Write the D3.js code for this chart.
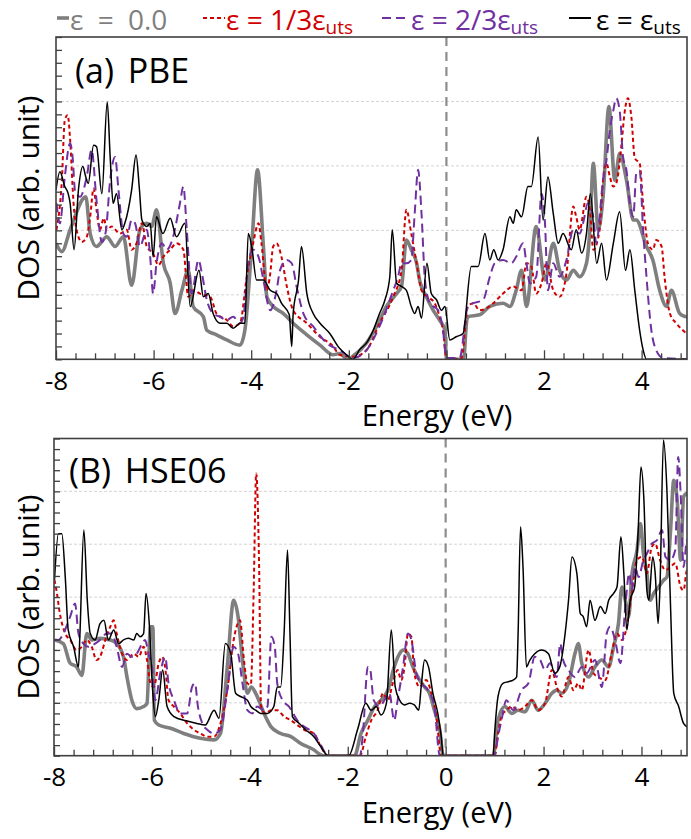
<!DOCTYPE html>
<html><head><meta charset="utf-8">
<script src="https://cdn.jsdelivr.net/npm/d3@7"></script>
<style>
body{margin:0;background:#fff}
text{font-family:"Open Sans",sans-serif}
</style>
</head><body>
<svg id="c" width="691" height="839"></svg>
<script>
// ---------------- DATA (Energy eV, DOS arb. unit) ----------------
const xMajorTicks = [-8, -6, -4, -2, 0, 2, 4];
const legendLabels = ["ε = 0.0", "ε = 1/3ε", "ε = 2/3ε", "ε = ε"];
const panelTitles = ["(a) PBE", "(B) HSE06"];

// PBE panel
const pbe_eps0 = [[-8.0,1.80],[-7.88,1.67],[-7.71,2.01],[-7.39,2.52],[-7.30,1.95],[-7.17,1.75],[-6.96,1.90],[-6.79,1.75],[-6.62,1.90],[-6.45,1.15],[-6.28,2.01],[-6.14,2.11],[-6.04,2.06],[-5.94,2.32],[-5.80,1.49],[-5.66,1.18],[-5.56,0.71],[-5.42,1.07],[-5.29,1.38],[-5.19,0.82],[-4.98,0.66],[-4.91,0.45],[-4.71,0.38],[-4.50,0.30],[-4.23,0.22],[-4.13,0.45],[-3.99,1.75],[-3.87,2.94],[-3.75,1.75],[-3.68,0.97],[-3.55,0.82],[-3.34,0.71],[-3.14,0.56],[-2.86,0.38],[-2.59,0.22],[-2.32,0.07],[-2.19,0.09],[-2.02,0.0],[-1.91,0.05],[-1.64,0.25],[-1.43,0.51],[-1.23,0.82],[-1.02,1.02],[-0.92,1.13],[-0.82,1.85],[-0.72,1.70],[-0.61,1.49],[-0.55,1.23],[-0.41,0.97],[-0.27,0.76],[-0.14,0.61],[-0.03,0.45],[0.0,0.0],[0.35,0.0],[0.42,0.62],[0.44,0.66],[0.68,0.69],[0.89,0.82],[1.16,0.87],[1.30,0.82],[1.43,1.07],[1.54,1.38],[1.64,0.82],[1.84,2.06],[2.02,1.23],[2.19,1.80],[2.32,1.38],[2.46,1.23],[2.60,1.38],[2.73,1.28],[2.87,1.49],[2.94,2.01],[3.01,3.04],[3.11,2.01],[3.21,2.52],[3.33,3.92],[3.45,2.78],[3.55,3.19],[3.69,2.78],[3.83,2.16],[3.89,2.16],[4.10,1.75],[4.23,1.54],[4.37,1.07],[4.51,0.82],[4.61,1.07],[4.78,0.71],[4.92,0.66],[5.0,0.66]];
const pbe_eps13 = [[-7.99,2.01],[-7.88,2.78],[-7.82,3.71],[-7.76,3.79],[-7.71,3.40],[-7.64,2.42],[-7.58,2.01],[-7.47,1.82],[-7.37,1.90],[-7.30,2.21],[-7.23,2.65],[-7.17,2.32],[-7.10,2.01],[-7.02,2.19],[-6.96,2.01],[-6.86,2.06],[-6.69,1.95],[-6.55,2.01],[-6.45,1.70],[-6.35,1.80],[-6.24,2.11],[-6.14,1.75],[-6.01,1.64],[-5.90,1.46],[-5.80,1.59],[-5.66,1.70],[-5.53,1.80],[-5.39,1.70],[-5.29,0.97],[-5.19,1.07],[-5.05,1.02],[-4.84,0.97],[-4.71,0.71],[-4.50,0.61],[-4.37,0.51],[-4.23,0.56],[-4.09,1.28],[-3.96,1.80],[-3.85,2.11],[-3.79,1.80],[-3.68,1.07],[-3.61,1.33],[-3.55,1.75],[-3.48,1.80],[-3.38,1.59],[-3.27,1.13],[-3.14,0.76],[-2.86,0.56],[-2.59,0.35],[-2.32,0.20],[-2.19,0.07],[-1.91,0.04],[-1.64,0.14],[-1.37,0.56],[-1.09,0.97],[-0.92,1.38],[-0.82,2.32],[-0.72,1.95],[-0.61,1.49],[-0.51,1.07],[-0.38,0.97],[-0.24,0.87],[-0.14,0.66],[-0.07,0.45],[0.0,0.02],[0.07,0.0],[0.31,0.02],[0.44,0.82],[0.55,0.87],[0.68,0.76],[0.82,0.79],[0.96,0.87],[1.16,1.02],[1.37,1.13],[1.54,1.07],[1.64,1.49],[1.74,1.44],[1.84,1.02],[1.95,1.18],[2.05,1.49],[2.19,1.07],[2.32,0.97],[2.46,1.33],[2.60,2.37],[2.66,2.21],[2.73,2.01],[2.87,2.52],[2.94,2.32],[3.01,1.70],[3.14,2.01],[3.21,2.78],[3.28,3.04],[3.35,2.83],[3.42,2.68],[3.48,2.73],[3.59,3.35],[3.65,3.82],[3.72,4.05],[3.79,3.76],[3.86,3.12],[3.96,3.04],[4.03,2.42],[4.13,1.80],[4.23,1.70],[4.30,1.85],[4.41,1.75],[4.47,1.28],[4.58,0.71],[4.71,0.56],[4.92,0.40],[5.0,0.35]];
const pbe_eps23 = [[-7.99,2.42],[-7.92,2.11],[-7.82,2.83],[-7.71,3.35],[-7.66,3.14],[-7.61,2.62],[-7.51,2.52],[-7.37,2.83],[-7.27,3.25],[-7.17,2.47],[-7.06,1.82],[-6.98,1.98],[-6.89,2.78],[-6.79,3.14],[-6.72,2.63],[-6.62,1.95],[-6.55,1.90],[-6.45,2.16],[-6.38,2.11],[-6.28,1.75],[-6.14,2.01],[-6.07,1.59],[-6.01,1.02],[-5.94,1.49],[-5.83,1.80],[-5.73,1.70],[-5.60,1.90],[-5.46,2.42],[-5.39,2.68],[-5.32,2.01],[-5.22,1.02],[-5.08,1.54],[-5.01,1.33],[-4.91,0.92],[-4.78,0.71],[-4.64,0.66],[-4.50,0.61],[-4.37,0.66],[-4.23,0.56],[-4.16,0.66],[-4.06,1.49],[-3.96,1.70],[-3.85,1.59],[-3.75,1.23],[-3.61,0.76],[-3.48,1.07],[-3.41,1.38],[-3.27,1.54],[-3.17,1.49],[-3.07,1.13],[-2.93,0.71],[-2.73,0.51],[-2.45,0.25],[-2.18,0.14],[-1.91,0.02],[-1.64,0.14],[-1.37,0.51],[-1.09,1.07],[-0.99,1.28],[-0.92,1.49],[-0.82,1.49],[-0.72,1.54],[-0.65,2.26],[-0.58,2.94],[-0.51,2.26],[-0.44,1.23],[-0.34,0.87],[-0.17,0.76],[-0.07,0.45],[0.0,0.02],[0.27,0.02],[0.44,0.82],[0.55,0.87],[0.75,0.92],[0.89,1.28],[0.99,1.49],[1.16,1.54],[1.33,1.49],[1.43,1.59],[1.57,1.80],[1.64,1.49],[1.71,1.18],[1.84,1.28],[1.95,2.57],[2.02,2.11],[2.08,1.07],[2.19,1.49],[2.32,1.28],[2.46,1.54],[2.60,2.01],[2.73,1.95],[2.80,2.11],[2.90,2.42],[3.01,2.21],[3.07,1.80],[3.21,2.78],[3.28,3.09],[3.35,3.56],[3.42,3.86],[3.48,4.05],[3.55,3.86],[3.62,3.14],[3.69,2.93],[3.76,2.42],[3.83,2.21],[3.89,2.88],[3.96,2.93],[4.03,2.01],[4.10,1.28],[4.20,0.45],[4.30,0.14],[4.44,0.02],[5.0,0.0]];
const pbe_epsUts = [[-8.0,2.63],[-7.92,2.91],[-7.82,2.68],[-7.75,2.57],[-7.71,2.42],[-7.63,1.70],[-7.54,2.63],[-7.45,2.99],[-7.39,2.83],[-7.34,2.73],[-7.23,3.32],[-7.17,3.30],[-7.06,2.57],[-6.95,3.99],[-6.89,3.14],[-6.83,2.42],[-6.76,2.57],[-6.65,2.01],[-6.59,2.11],[-6.45,2.63],[-6.36,3.17],[-6.29,2.63],[-6.24,2.16],[-6.14,2.06],[-6.07,2.11],[-6.01,1.59],[-5.94,2.21],[-5.81,1.95],[-5.66,2.19],[-5.53,1.90],[-5.36,2.11],[-5.25,0.82],[-5.07,1.38],[-4.98,0.97],[-4.88,1.02],[-4.78,0.71],[-4.64,0.56],[-4.50,0.56],[-4.37,0.48],[-4.23,0.56],[-4.13,0.56],[-4.06,1.95],[-3.99,1.75],[-3.89,1.23],[-3.75,1.23],[-3.61,1.07],[-3.48,1.02],[-3.38,0.87],[-3.22,0.69],[-3.17,0.20],[-3.14,0.71],[-3.03,1.23],[-2.97,1.75],[-2.86,1.02],[-2.73,0.71],[-2.59,0.56],[-2.39,0.40],[-2.19,0.17],[-2.05,0.07],[-1.91,0.0],[-1.78,0.15],[-1.64,0.25],[-1.50,0.45],[-1.37,0.71],[-1.26,0.92],[-1.16,1.28],[-1.11,2.01],[-1.02,1.18],[-0.92,1.13],[-0.82,1.07],[-0.72,0.82],[-0.65,0.71],[-0.58,0.82],[-0.51,0.64],[-0.40,1.49],[-0.31,1.02],[-0.20,0.92],[-0.10,0.76],[-0.03,0.82],[0.07,0.30],[0.20,0.35],[0.34,0.40],[0.51,1.44],[0.65,1.44],[0.79,1.95],[0.89,1.54],[0.97,1.70],[1.06,1.54],[1.16,1.70],[1.30,2.21],[1.37,2.11],[1.43,2.32],[1.54,2.21],[1.67,2.68],[1.74,2.68],[1.88,3.45],[1.98,2.16],[2.08,2.83],[2.19,2.26],[2.29,1.80],[2.39,1.95],[2.56,1.70],[2.66,2.01],[2.77,1.65],[2.87,1.95],[2.95,2.57],[3.08,1.49],[3.18,1.80],[3.28,1.23],[3.42,1.80],[3.55,2.29],[3.67,1.38],[3.76,1.70],[3.86,1.07],[3.96,0.45],[4.03,0.15],[4.10,0.0],[5.0,0.0]];

// HSE06 panel
const hse_eps0 = [[-7.98,2.19],[-7.81,2.12],[-7.67,1.75],[-7.54,1.68],[-7.43,1.52],[-7.33,2.31],[-7.23,2.19],[-7.06,2.22],[-6.85,2.19],[-6.72,2.12],[-6.58,1.87],[-6.51,1.49],[-6.41,1.05],[-6.31,0.89],[-6.17,0.93],[-6.10,0.99],[-6.03,2.44],[-5.98,2.44],[-5.95,0.67],[-5.86,0.58],[-5.62,0.52],[-5.35,0.42],[-5.01,0.33],[-4.73,0.30],[-4.60,0.42],[-4.46,1.68],[-4.33,2.94],[-4.24,2.63],[-4.15,1.81],[-4.05,1.18],[-3.97,1.30],[-3.88,1.18],[-3.71,0.80],[-3.57,0.55],[-3.37,0.42],[-3.16,0.36],[-2.96,0.23],[-2.69,0.11],[-2.58,0.03],[-2.50,0.0],[-1.86,0.0],[-1.73,0.42],[-1.59,0.67],[-1.45,0.93],[-1.32,1.05],[-1.18,1.24],[-1.05,1.68],[-0.94,1.93],[-0.87,2.0],[-0.77,1.93],[-0.67,1.68],[-0.53,1.43],[-0.43,1.30],[-0.33,1.18],[-0.23,0.86],[-0.12,0.49],[-0.05,0.0],[0.97,0.0],[1.07,0.67],[1.21,0.93],[1.35,0.80],[1.48,0.86],[1.62,0.83],[1.76,1.05],[1.89,0.86],[2.03,0.99],[2.17,1.18],[2.27,1.24],[2.37,1.18],[2.51,1.37],[2.64,1.93],[2.71,2.12],[2.78,1.75],[2.92,1.49],[3.05,1.68],[3.19,1.81],[3.33,1.68],[3.43,2.06],[3.53,2.50],[3.60,3.19],[3.67,2.94],[3.74,2.63],[3.80,3.38],[3.91,3.89],[3.98,4.39],[4.04,3.82],[4.11,3.45],[4.18,2.94],[4.25,3.07],[4.35,3.19],[4.45,3.32],[4.52,3.38],[4.59,4.20],[4.66,5.21],[4.73,4.83],[4.80,3.70],[4.86,4.90],[4.93,4.96],[5.0,4.83]];
const hse_eps13 = [[-7.99,3.32],[-7.95,3.13],[-7.88,2.69],[-7.77,2.31],[-7.67,2.19],[-7.54,2.0],[-7.43,2.06],[-7.33,2.19],[-7.23,2.06],[-7.13,1.81],[-7.06,1.87],[-6.95,2.19],[-6.85,2.44],[-6.78,2.56],[-6.72,2.31],[-6.61,1.93],[-6.51,1.81],[-6.37,1.93],[-6.27,1.87],[-6.17,2.06],[-6.10,1.81],[-6.03,1.37],[-5.96,1.30],[-5.86,1.75],[-5.79,1.87],[-5.73,1.68],[-5.66,1.05],[-5.55,0.93],[-5.42,0.80],[-5.28,0.61],[-5.14,0.49],[-5.01,0.42],[-4.87,0.36],[-4.73,0.36],[-4.60,0.61],[-4.46,1.24],[-4.33,2.19],[-4.20,2.56],[-4.12,1.81],[-4.05,1.37],[-3.98,1.34],[-3.92,3.19],[-3.87,5.34],[-3.81,3.57],[-3.77,0.93],[-3.68,0.80],[-3.57,0.86],[-3.44,0.86],[-3.30,0.74],[-3.16,0.67],[-3.03,0.58],[-2.89,0.49],[-2.69,0.42],[-2.55,0.17],[-2.40,0.0],[-1.75,0.0],[-1.63,0.36],[-1.52,0.67],[-1.39,0.86],[-1.28,1.18],[-1.18,1.05],[-1.08,1.37],[-0.98,1.62],[-0.91,1.43],[-0.84,1.68],[-0.77,2.31],[-0.70,2.25],[-0.64,1.56],[-0.53,1.30],[-0.40,1.43],[-0.29,1.18],[-0.19,0.74],[-0.09,0.0],[1.0,0.0],[1.07,0.42],[1.14,0.74],[1.24,0.86],[1.35,0.93],[1.48,0.86],[1.62,0.93],[1.76,1.05],[1.89,0.86],[2.03,0.99],[2.17,1.62],[2.27,1.30],[2.37,1.12],[2.51,1.49],[2.61,1.24],[2.71,1.37],[2.78,1.24],[2.92,2.0],[3.02,1.56],[3.12,1.49],[3.26,1.43],[3.39,1.93],[3.50,2.31],[3.60,2.19],[3.70,2.44],[3.80,3.07],[3.91,3.70],[4.01,3.76],[4.11,3.45],[4.21,3.95],[4.28,4.01],[4.38,3.70],[4.49,3.51],[4.59,3.57],[4.69,3.64],[4.80,3.19],[4.86,3.13],[4.93,3.51],[5.0,2.94]];
const hse_eps23 = [[-7.99,2.19],[-7.91,2.19],[-7.81,2.31],[-7.67,2.63],[-7.57,2.88],[-7.50,2.31],[-7.40,2.12],[-7.30,2.06],[-7.16,2.12],[-7.06,2.19],[-6.92,2.31],[-6.82,2.31],[-6.72,2.06],[-6.61,1.68],[-6.51,1.93],[-6.41,1.87],[-6.31,1.93],[-6.20,2.12],[-6.14,2.19],[-6.07,1.93],[-6.00,1.68],[-5.93,1.05],[-5.83,1.56],[-5.73,1.87],[-5.66,1.37],[-5.55,1.05],[-5.42,0.80],[-5.28,0.80],[-5.18,1.30],[-5.12,1.37],[-5.06,0.93],[-4.97,0.61],[-4.87,0.49],[-4.73,0.42],[-4.60,0.49],[-4.46,1.24],[-4.33,2.06],[-4.24,1.93],[-4.15,1.37],[-4.05,0.86],[-3.95,0.80],[-3.85,0.93],[-3.71,0.86],[-3.64,0.93],[-3.56,2.25],[-3.49,2.06],[-3.44,1.37],[-3.33,1.05],[-3.20,0.93],[-3.03,0.67],[-2.89,0.55],[-2.69,0.42],[-2.55,0.20],[-2.40,0.0],[-1.75,0.0],[-1.69,0.42],[-1.59,1.68],[-1.54,1.62],[-1.47,1.05],[-1.35,0.93],[-1.25,1.05],[-1.15,1.18],[-1.05,0.67],[-0.98,1.05],[-0.87,1.68],[-0.77,2.31],[-0.70,2.19],[-0.60,1.56],[-0.50,1.37],[-0.36,1.24],[-0.23,0.93],[-0.12,0.0],[1.0,0.0],[1.07,0.36],[1.14,0.67],[1.24,1.05],[1.38,0.86],[1.55,1.24],[1.69,1.37],[1.82,1.87],[1.93,1.81],[2.03,1.62],[2.13,1.75],[2.27,1.49],[2.34,2.12],[2.40,1.81],[2.51,1.62],[2.64,1.49],[2.78,1.68],[2.88,1.56],[3.05,1.81],[3.19,1.30],[3.29,2.31],[3.36,2.44],[3.46,2.19],[3.57,1.75],[3.67,2.82],[3.75,3.45],[3.80,3.13],[3.87,3.57],[3.94,3.38],[4.04,3.70],[4.11,3.82],[4.21,4.01],[4.32,4.08],[4.42,4.27],[4.49,3.76],[4.59,3.70],[4.69,3.89],[4.75,5.65],[4.80,4.96],[4.86,3.57],[4.93,4.08],[5.0,2.63]];
const hse_epsUts = [[-7.99,3.32],[-7.91,4.20],[-7.84,4.20],[-7.77,3.38],[-7.71,2.38],[-7.60,2.06],[-7.50,1.68],[-7.47,2.31],[-7.39,4.27],[-7.32,2.94],[-7.26,2.31],[-7.16,2.19],[-7.06,2.50],[-6.98,2.56],[-6.89,2.19],[-6.78,2.38],[-6.68,2.12],[-6.58,2.19],[-6.48,2.22],[-6.37,2.19],[-6.31,2.31],[-6.24,2.25],[-6.17,2.31],[-6.12,3.07],[-6.05,2.44],[-5.99,1.30],[-5.93,0.74],[-5.86,1.05],[-5.78,1.62],[-5.69,0.93],[-5.55,0.74],[-5.30,0.66],[-5.08,0.61],[-4.91,0.58],[-4.73,0.86],[-4.63,0.71],[-4.50,2.12],[-4.39,1.93],[-4.29,1.18],[-4.19,1.12],[-4.05,1.05],[-3.98,0.93],[-3.88,0.86],[-3.78,0.80],[-3.64,0.80],[-3.51,0.93],[-3.44,1.30],[-3.37,1.30],[-3.30,2.31],[-3.23,3.89],[-3.18,2.31],[-3.13,0.74],[-2.99,0.61],[-2.86,0.49],[-2.69,0.36],[-2.55,0.17],[-2.40,0.0],[-1.98,0.0],[-1.80,0.49],[-1.63,0.99],[-1.52,0.86],[-1.42,0.93],[-1.32,0.77],[-1.21,0.99],[-1.11,2.38],[-1.03,1.30],[-0.94,1.05],[-0.84,0.96],[-0.74,0.99],[-0.64,0.96],[-0.55,0.86],[-0.50,1.30],[-0.43,1.81],[-0.35,1.68],[-0.26,1.18],[-0.16,0.80],[-0.09,0.36],[-0.05,0.0],[0.97,0.0],[1.0,0.42],[1.07,1.12],[1.17,1.37],[1.28,1.40],[1.38,1.43],[1.45,1.49],[1.48,2.31],[1.53,4.33],[1.58,3.57],[1.65,1.68],[1.72,1.81],[1.82,1.93],[1.96,2.0],[2.10,1.93],[2.23,1.56],[2.33,1.68],[2.44,2.31],[2.51,2.94],[2.58,3.76],[2.68,3.45],[2.75,2.69],[2.81,2.63],[2.88,2.44],[2.95,2.94],[3.05,2.56],[3.16,2.82],[3.26,2.69],[3.33,2.94],[3.43,3.07],[3.50,3.19],[3.58,4.14],[3.64,3.45],[3.70,2.38],[3.77,2.94],[3.86,3.19],[3.93,4.20],[3.99,5.46],[4.05,4.83],[4.11,3.13],[4.15,2.94],[4.23,3.76],[4.28,3.45],[4.34,2.50],[4.38,3.26],[4.45,5.97],[4.52,5.02],[4.59,2.94],[4.66,1.18],[4.76,0.93],[4.86,0.61],[4.97,0.52],[5.0,0.50]];

// ---------------- STYLES / LAYOUT ----------------
const styles = [
  {color:"#7f7f7f", width:3.6, dash:null},
  {color:"#d00000", width:2, dash:"4,3"},
  {color:"#7030a0", width:2, dash:"9,5"},
  {color:"#000000", width:1.5, dash:null}
];
const panels = [
  {series:[pbe_eps0, pbe_eps13, pbe_eps23, pbe_epsUts], left:56, right:687, top:37, bottom:359.3, ymax:5, title:panelTitles[0], titleX:75, titleY:83},
  {series:[hse_eps0, hse_eps13, hse_eps23, hse_epsUts], left:54, right:687, top:438.5, bottom:755.7, ymax:6, title:panelTitles[1], titleX:69, titleY:483}
];

const svg = d3.select("#c");
const defs = svg.append("defs");
const frameColor = "#404040";

panels.forEach((p, pi) => {
  const x = d3.scaleLinear().domain([-8, 4.93]).range([p.left, p.right]);
  const y = d3.scaleLinear().domain([0, p.ymax]).range([p.bottom, p.top]);
  const g = svg.append("g");
  const cid = "clip" + pi;
  defs.append("clipPath").attr("id", cid).append("rect")
    .attr("x", p.left).attr("y", p.top).attr("width", p.right - p.left).attr("height", p.bottom - p.top);

  // gridlines
  g.append("g").selectAll("line").data(d3.range(1, p.ymax)).join("line")
    .attr("x1", p.left).attr("x2", p.right)
    .attr("y1", d => y(d)).attr("y2", d => y(d))
    .attr("stroke", "#d4d4d4").attr("stroke-width", 1).attr("stroke-dasharray", "3,2");

  // zero-energy dashed line
  g.append("line").attr("x1", x(0)).attr("x2", x(0)).attr("y1", p.top).attr("y2", p.bottom)
    .attr("stroke", "#8c8c8c").attr("stroke-width", 2.2).attr("stroke-dasharray", "9,6");

  // curves
  const line = d3.line().x(d => x(d[0])).y(d => y(d[1])).curve(d3.curveMonotoneX);
  const cg = g.append("g").attr("clip-path", `url(#${cid})`);
  p.series.forEach((s, i) => {
    const st = styles[i];
    cg.append("path").datum(s).attr("d", line)
      .attr("fill", "none").attr("stroke", st.color).attr("stroke-width", st.width)
      .attr("stroke-linejoin", "round").attr("stroke-dasharray", st.dash);
  });

  // x axis: minor ticks (every 0.4 eV) inward
  const minor = d3.range(0, 33).map(i => +(-8 + i * 0.4).toFixed(2)).filter(v => !xMajorTicks.includes(v));
  const xMinor = d3.axisBottom(x).tickValues(minor).tickSizeInner(-6).tickSizeOuter(0).tickFormat("");
  const xMajor = d3.axisBottom(x).tickValues(xMajorTicks).tickSizeInner(-9).tickSizeOuter(0).tickPadding(12)
    .tickFormat(d => d);
  const ax1 = g.append("g").attr("transform", `translate(0,${p.bottom})`).call(xMinor);
  const ax2 = g.append("g").attr("transform", `translate(0,${p.bottom})`).call(xMajor);
  [ax1, ax2].forEach(a => {
    a.select(".domain").remove();
    a.selectAll(".tick line").attr("stroke", frameColor).attr("stroke-width", 1.3);
  });
  ax2.selectAll(".tick text").attr("font-size", 26).attr("fill", "#000")
    .attr("font-family", "'Open Sans', sans-serif");

  // y axis: ticks every 0.2 inward, no labels
  const yTicks = d3.range(0, p.ymax * 5 + 1).map(i => +(i * 0.2).toFixed(2));
  const ay = g.append("g").attr("transform", `translate(${p.left},0)`)
    .call(d3.axisLeft(y).tickValues(yTicks).tickSizeInner(-6).tickSizeOuter(0).tickFormat(""));
  ay.select(".domain").remove();
  ay.selectAll(".tick line").attr("stroke", frameColor).attr("stroke-width", 1.3);

  // frame
  g.append("rect").attr("x", p.left).attr("y", p.top).attr("width", p.right - p.left).attr("height", p.bottom - p.top)
    .attr("fill", "none").attr("stroke", frameColor).attr("stroke-width", 1.6);

  // axis titles
  g.append("text").attr("x", 437).attr("y", p.bottom + 67).attr("text-anchor", "middle")
    .attr("font-size", 29).attr("fill", "#000").text("Energy (eV)");
  g.append("text").attr("transform", `translate(39,${(p.top + p.bottom) / 2}) rotate(-90)`)
    .attr("text-anchor", "middle").attr("font-size", 30).attr("fill", "#000").text("DOS (arb. unit)");

  // panel title
  g.append("text").attr("x", p.titleX).attr("y", p.titleY).attr("font-size", 34)
    .attr("fill", "#000").attr("word-spacing", 5).text(p.title);
});

// ---------------- LEGEND ----------------
const legendItems = [
  {x1:57, x2:69, tx:70, fs:28, ws:7},
  {x1:203, x2:225, tx:226, fs:28, ws:0},
  {x1:382, x2:409, tx:411, fs:28, ws:0},
  {x1:569, x2:591, tx:596, fs:28, ws:0}
];
const lg = svg.append("g");
legendItems.forEach((it, i) => {
  const st = styles[i];
  lg.append("line").attr("x1", it.x1).attr("x2", it.x2).attr("y1", 18).attr("y2", 18)
    .attr("stroke", st.color).attr("stroke-width", i === 0 ? 3.6 : 2).attr("stroke-dasharray", st.dash);
  const t = lg.append("text").attr("x", it.tx).attr("y", 30).attr("font-size", it.fs)
    .attr("word-spacing", it.ws).attr("fill", st.color);
  t.append("tspan").text(legendLabels[i]);
  if (i > 0) t.append("tspan").attr("font-size", 19).attr("dy", 4).text("uts");
});
</script>
</body></html>
